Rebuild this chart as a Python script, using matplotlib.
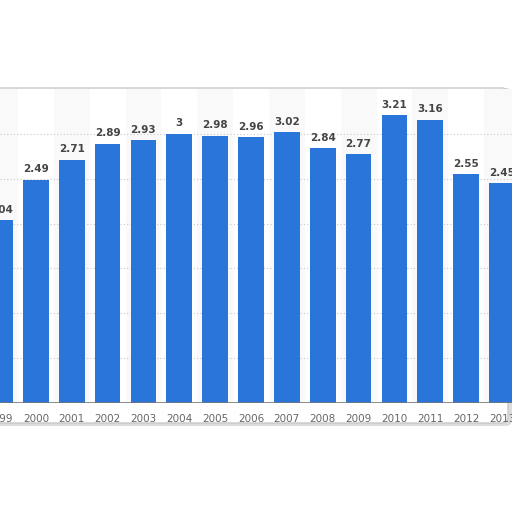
import matplotlib
matplotlib.use("Agg")
import matplotlib.pyplot as plt
from matplotlib.patches import FancyBboxPatch, Rectangle

years = [1999, 2000, 2001, 2002, 2003, 2004, 2005, 2006, 2007, 2008, 2009, 2010, 2011, 2012, 2013]
values = [2.04, 2.49, 2.71, 2.89, 2.93, 3.0, 2.98, 2.96, 3.02, 2.84, 2.77, 3.21, 3.16, 2.55, 2.45]
labels = ["2.04", "2.49", "2.71", "2.89", "2.93", "3", "2.98", "2.96", "3.02", "2.84", "2.77", "3.21", "3.16", "2.55", "2.45"]
tick_labels = [str(y) for y in years]

W = 512
fig = plt.figure(figsize=(5.12, 5.12), dpi=100)
fig.patch.set_facecolor("white")

def px(x, y):
    return x / W, (W - y) / W

sh = FancyBboxPatch(px(-10, 426), 522 / W, (426 - 88) / W,
                    boxstyle="round,pad=0,rounding_size=0.012",
                    transform=fig.transFigure, facecolor="#dcdcdc",
                    edgecolor="none", zorder=0)
fig.patches.append(sh)
panel = FancyBboxPatch(px(-10, 423), 518 / W, (423 - 88) / W,
                       boxstyle="round,pad=0,rounding_size=0.012",
                       transform=fig.transFigure, facecolor="white",
                       edgecolor="#c8c8c8", linewidth=1.0, zorder=1)
fig.patches.append(panel)

pitch = 36.3
x0px = 30.0
left_lim = 2000 - x0px / pitch
right_lim = 2000 + (W - x0px) / pitch
ybot = 403
ytop = 89
ax = fig.add_axes([0, (W - ybot) / W, 1, (ybot - ytop) / W])
ax.set_facecolor("none")
ax.set_zorder(2)
ax.set_xlim(left_lim, right_lim)
ax.set_ylim(0, 3.5)

for i, y in enumerate(years):
    if i % 2 == 0:
        ax.add_patch(Rectangle((y - 0.5, 0), 1, 3.5, facecolor="#f9f9f9",
                               edgecolor="none", zorder=0))

for g in [0.5, 1.0, 1.5, 2.0, 2.5, 3.0]:
    ax.axhline(g, color="#c8c8c8", linestyle=(0, (1, 2)), linewidth=0.8, zorder=1)

ax.bar(years, values, width=0.72, color="#2a75d9", zorder=2)
for y, v, l in zip(years, values, labels):
    ax.text(y, v + 0.06, l, ha="center", va="bottom", fontsize=7.5,
            fontweight="bold", color="#454545", zorder=3)

ax.axhline(0, color="#777777", linewidth=1.2, zorder=3)
for s in ax.spines.values():
    s.set_visible(False)
ax.set_yticks([])
ax.set_xticks(years)
ax.set_xticklabels(tick_labels, fontsize=7.5, color="#666666")
ax.tick_params(axis="x", length=0, pad=8)

fig.savefig("out.png", dpi=100, facecolor="white")
